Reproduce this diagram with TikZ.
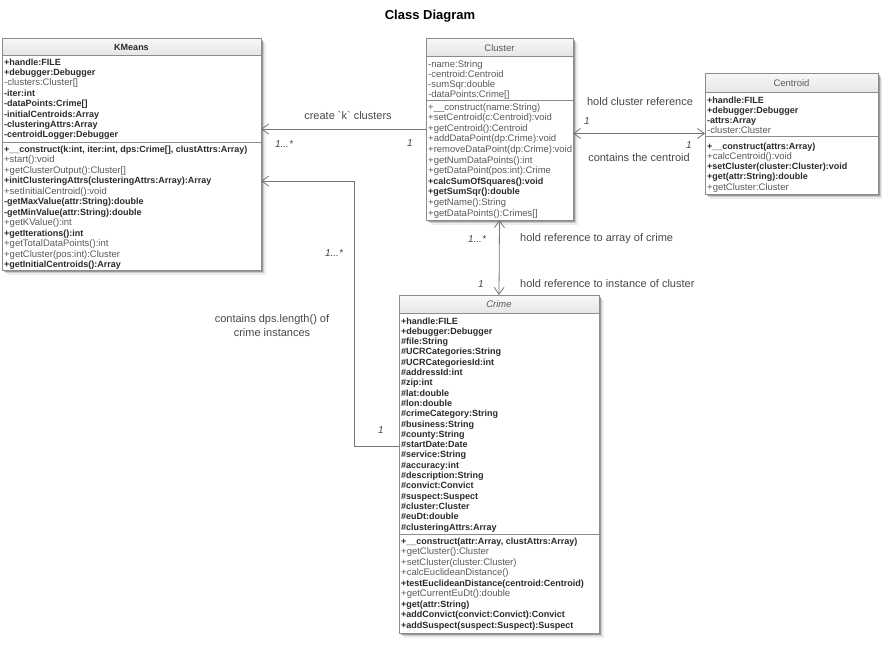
\documentclass[tikz,border=0pt]{standalone}
\usepackage{fontspec}
\setmainfont{Liberation Sans}
\usetikzlibrary{arrows.meta,fit,shadows}
\definecolor{boxline}{HTML}{8C8C8C}
\definecolor{txtbold}{HTML}{2A2A2A}
\definecolor{txtreg}{HTML}{5A5A5A}
\definecolor{conn}{HTML}{767676}
\definecolor{lbl}{HTML}{474747}
\definecolor{hdtop}{HTML}{F8F8F8}
\definecolor{hdbot}{HTML}{E6E6E6}
\newcommand\rowfont{\fontsize{9}{10}\selectfont}
\newcommand\regfont{\fontsize{9.5}{10}\selectfont}
\newcommand\lblfont{\fontsize{11}{14}\selectfont}
\tikzset{
  classbox/.style={inner sep=0pt, outer sep=0pt, fill=white, draw=none,
    drop shadow={shadow xshift=1.5pt, shadow yshift=-1.5pt, opacity=0.25, fill=black},
    drop shadow={shadow xshift=3pt, shadow yshift=-3pt, opacity=0.14, fill=black},
    drop shadow={shadow xshift=5pt, shadow yshift=-5pt, opacity=0.07, fill=black}},
  header/.style={top color=hdtop, bottom color=hdbot},
  divider/.style={draw=boxline, line width=0.7pt},
  border/.style={draw=boxline, line width=0.8pt},
  hdtitle/.style={inner sep=0pt, anchor=base, text=txtreg, font=\regfont},
  rowb/.style={inner sep=0pt, anchor=base west, text=txtbold, font=\rowfont\bfseries},
  rowr/.style={inner sep=0pt, anchor=base west, text=txtreg, font=\regfont},
  mult/.style={inner sep=0pt, text=lbl, font=\fontsize{10}{12}\selectfont\itshape},
  lab/.style={inner sep=0pt, text=lbl, font=\lblfont},
  titlestyle/.style={inner sep=0pt, text=black, font=\fontsize{13}{15}\selectfont\bfseries},
  assoc/.style={draw=conn, line width=0.8pt},
  barb/.tip={Straight Barb[length=7pt,width=10pt]}
}
\begin{document}
\begin{tikzpicture}[x=1pt,y=-1pt]
\useasboundingbox (0,0) rectangle (882,645);

\node[titlestyle] (title) at (430,16) {Class Diagram};

% ---------------- KMeans
\node[classbox, fit={(2,38) (261,270)}] (km) {};
\shade[header] (2,38) rectangle (261,55);
\draw[divider] (2,55) -- (261,55);
\draw[divider] (2,142) -- (261,142);
\draw[border] (km.north west) rectangle (km.south east);
\node[hdtitle, font=\rowfont\bfseries, text=txtbold] (kmt) at (131.5,50.5) {KMeans};
\foreach \s/\t [count=\i] in {
  b/{+handle:FILE}, b/{+debugger:Debugger}, r/{-clusters:Cluster[]}, b/{-iter:int},
  b/{-dataPoints:Crime[]}, b/{-initialCentroids:Array}, b/{-clusteringAttrs:Array},
  b/{-centroidLogger:Debugger}}
  \node[row\s] (kma\i) at (4,{65+(\i-1)*10.4}) {\t};
\foreach \s/\t [count=\i] in {
  b/{+\_\_construct(k:int, iter:int, dps:Crime[], clustAttrs:Array)},
  r/{+start():void}, r/{+getClusterOutput():Cluster[]},
  b/{+initClusteringAttrs(clusteringAttrs:Array):Array},
  r/{+setInitialCentroid():void}, b/{-getMaxValue(attr:String):double},
  b/{-getMinValue(attr:String):double}, r/{+getKValue():int},
  b/{+getIterations():int}, r/{+getTotalDataPoints():int},
  r/{+getCluster(pos:int):Cluster}, b/{+getInitialCentroids():Array}}
  \node[row\s] (kmm\i) at (4,{152.5+(\i-1)*10.45}) {\t};

% ---------------- Cluster
\node[classbox, fit={(426,38) (573,220)}] (cl) {};
\shade[header] (426,38) rectangle (573,56);
\draw[divider] (426,56) -- (573,56);
\draw[divider] (426,100.5) -- (573,100.5);
\draw[border] (cl.north west) rectangle (cl.south east);
\node[hdtitle] (clt) at (499.5,51) {Cluster};
\foreach \s/\t [count=\i] in {
  r/{-name:String}, r/{-centroid:Centroid}, r/{-sumSqr:double}, r/{-dataPoints:Crime[]}}
  \node[row\s] (cla\i) at (428,{67+(\i-1)*10.1}) {\t};
\foreach \s/\t [count=\i] in {
  r/{+\_\_construct(name:String)}, r/{+setCentroid(c:Centroid):void},
  r/{+getCentroid():Centroid}, r/{+addDataPoint(dp:Crime):void},
  r/{+removeDataPoint(dp:Crime):void}, r/{+getNumDataPoints():int},
  r/{+getDataPoint(pos:int):Crime}, b/{+calcSumOfSquares():void},
  b/{+getSumSqr():double}, r/{+getName():String}, r/{+getDataPoints():Crimes[]}}
  \node[row\s] (clm\i) at (428,{110+(\i-1)*10.6}) {\t};

% ---------------- Centroid
\node[classbox, fit={(705,73) (878,194)}] (ce) {};
\shade[header] (705,73) rectangle (878,92);
\draw[divider] (705,92) -- (878,92);
\draw[divider] (705,136.5) -- (878,136.5);
\draw[border] (ce.north west) rectangle (ce.south east);
\node[hdtitle] (cet) at (791.5,86.5) {Centroid};
\foreach \s/\t [count=\i] in {
  b/{+handle:FILE}, b/{+debugger:Debugger}, b/{-attrs:Array}, r/{-cluster:Cluster}}
  \node[row\s] (cea\i) at (707,{103+(\i-1)*10}) {\t};
\foreach \s/\t [count=\i] in {
  b/{+\_\_construct(attrs:Array)}, r/{+calcCentroid():void},
  b/{+setCluster(cluster:Cluster):void}, b/{+get(attr:String):double},
  r/{+getCluster:Cluster}}
  \node[row\s] (cem\i) at (707,{149+(\i-1)*10.3}) {\t};

% ---------------- Crime
\node[classbox, fit={(399,295) (599,633)}] (cr) {};
\shade[header] (399,295) rectangle (599,313);
\draw[divider] (399,313) -- (599,313);
\draw[divider] (399,534.5) -- (599,534.5);
\draw[border] (cr.north west) rectangle (cr.south east);
\node[hdtitle, font=\regfont\itshape] (crt) at (499,307.5) {Crime};
\foreach \s/\t [count=\i] in {
  b/{+handle:FILE}, b/{+debugger:Debugger}, b/{\#file:String},
  b/{\#UCRCategories:String}, b/{\#UCRCategoriesId:int}, b/{\#addressId:int},
  b/{\#zip:int}, b/{\#lat:double}, b/{\#lon:double}, b/{\#crimeCategory:String},
  b/{\#business:String}, b/{\#county:String}, b/{\#startDate:Date},
  b/{\#service:String}, b/{\#accuracy:int}, b/{\#description:String},
  b/{\#convict:Convict}, b/{\#suspect:Suspect}, b/{\#cluster:Cluster},
  b/{\#euDt:double}, b/{\#clusteringAttrs:Array}}
  \node[row\s] (cra\i) at (401,{324+(\i-1)*10.3}) {\t};
\foreach \s/\t [count=\i] in {
  b/{+\_\_construct(attr:Array, clustAttrs:Array)}, r/{+getCluster():Cluster},
  r/{+setCluster(cluster:Cluster)}, r/{+calcEuclideanDistance()},
  b/{+testEuclideanDistance(centroid:Centroid)}, r/{+getCurrentEuDt():double},
  b/{+get(attr:String)}, b/{+addConvict(convict:Convict):Convict},
  b/{+addSuspect(suspect:Suspect):Suspect}}
  \node[row\s] (crm\i) at (401,{544+(\i-1)*10.5}) {\t};

% ---------------- connectors
\draw[assoc, -{barb}] (cl.west) -- (cl.west -| km.east);
\draw[assoc, {barb}-{barb}] (cl.east |- ce.west) -- (ce.west);
\draw[assoc, {barb}-{barb}] (cl.south) -- (cr.north);
\draw[assoc, -{barb}] ([yshift=18pt]cr.west) -- ++(-45,0) |- ([yshift=-27pt]km.east);

% ---------------- labels
\node[lab] (l1) at (348,116) {create \textasciigrave k\textasciigrave{} clusters};
\node[mult] (m1) at (284,144) {1...*};
\node[mult] (m2) at (410,143) {1};
\node[lab] (l2) at (640,102) {hold cluster reference};
\node[lab] (l3) at (639,158) {contains the centroid};
\node[mult] (m3) at (587,121) {1};
\node[mult] (m4) at (689,145) {1};
\node[mult] (m5) at (477,239) {1...*};
\node[mult] (m6) at (481,284) {1};
\node[lab, anchor=west] (l4) at (520,239) {hold reference to array of crime};
\node[lab, anchor=west] (l5) at (520,284) {hold reference to instance of cluster};
\node[mult] (m7) at (334,253) {1...*};
\node[mult] (m8) at (381,430) {1};
\node[lab, align=center] (l6) at (272,326) {contains dps.length() of\\crime instances};
\end{tikzpicture}
\end{document}
